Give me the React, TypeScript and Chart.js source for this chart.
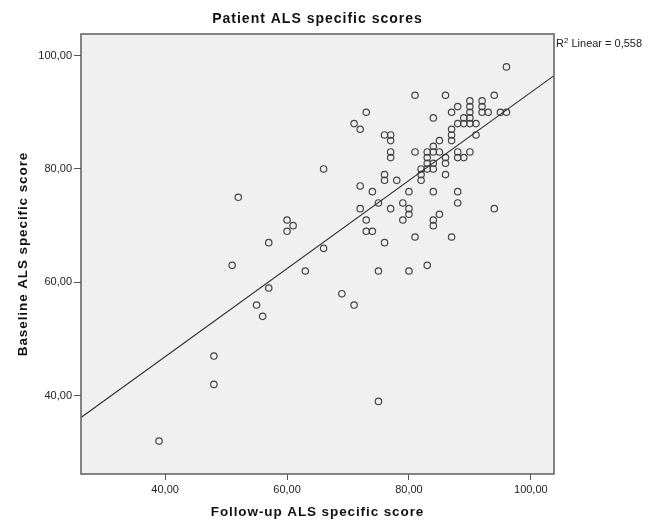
import { useEffect, useRef } from "react";
import { Chart, registerables } from "chart.js";

Chart.register(...registerables);

// Follow-up (x) and baseline (y) ALS specific scores, one entry per patient
const followUp = [
  39, 48, 48, 52, 51, 55, 56, 57, 57, 60, 61, 60, 63, 66, 66, 69, 71, 71, 72, 73,
  72, 72, 73, 73, 74, 74, 75, 75, 75, 76, 76, 76, 77, 77, 77, 77, 76, 77, 78, 79,
  79, 80, 80, 80, 80, 81, 81, 81, 82, 82, 82, 83, 83, 83, 83, 83, 84, 84, 84, 84,
  84, 84, 84, 84, 85, 85, 85, 86, 86, 86, 86, 87, 87, 87, 87, 87, 88, 88, 88, 88,
  88, 88, 89, 89, 89, 90, 90, 90, 90, 90, 90, 91, 91, 92, 92, 92, 93, 94, 94, 95,
  96, 96,
];
const baseline = [
  32, 47, 42, 75, 63, 56, 54, 59, 67, 71, 70, 69, 62, 66, 80, 58, 56, 88, 87, 90,
  77, 73, 71, 69, 69, 76, 74, 62, 39, 79, 78, 86, 86, 85, 83, 82, 67, 73, 78, 74,
  71, 76, 73, 72, 62, 68, 93, 83, 79, 78, 80, 80, 81, 82, 83, 63, 80, 81, 83, 84,
  89, 76, 71, 70, 72, 85, 83, 79, 93, 82, 81, 86, 85, 87, 90, 68, 91, 88, 83, 82,
  76, 74, 88, 82, 89, 92, 91, 90, 89, 88, 83, 88, 86, 92, 91, 90, 90, 93, 73, 90,
  90, 98,
];

// Axis extent and tick values
const axisMin = 26.2;
const axisMax = 103.8;
const tickValues = [40, 60, 80, 100];

// Linear fit line
const fitIntercept = 15.8;
const fitSlope = 0.777;
const rSquared = "0,558";

const chartTitle = "Patient ALS specific scores";
const xTitle = "Follow-up ALS specific score";
const yTitle = "Baseline ALS specific score";

const formatTick = (v: number) => v.toFixed(2).replace(".", ",");

export default function App() {
  const canvasRef = useRef<HTMLCanvasElement | null>(null);

  useEffect(() => {
    const canvas = canvasRef.current;
    if (!canvas) return;

    const points = followUp.map((x, i) => ({ x, y: baseline[i] }));
    const fitLine = [axisMin, axisMax].map((x) => ({ x, y: fitIntercept + fitSlope * x }));

    const framePlugin = {
      id: "frameAndText",
      beforeDatasetsDraw(chart: any) {
        const { ctx, chartArea: a } = chart;
        ctx.save();
        ctx.fillStyle = "#f0f0f0";
        ctx.fillRect(a.left, a.top, a.right - a.left, a.bottom - a.top);
        ctx.restore();
      },
      afterDraw(chart: any) {
        const { ctx, chartArea: a } = chart;
        ctx.save();
        ctx.strokeStyle = "#5e5e5e";
        ctx.lineWidth = 1.5;
        ctx.strokeRect(a.left, a.top, a.right - a.left, a.bottom - a.top);

        const cx = (a.left + a.right) / 2;
        const cy = (a.top + a.bottom) / 2;
        ctx.fillStyle = "#111";
        ctx.textAlign = "center";
        ctx.textBaseline = "alphabetic";

        (ctx as any).letterSpacing = "1px";
        ctx.font = "bold 14px 'Liberation Sans', Arial, sans-serif";
        ctx.fillText(chartTitle, cx, 23);

        (ctx as any).letterSpacing = "0.9px";
        ctx.font = "bold 13.5px 'Liberation Sans', Arial, sans-serif";
        ctx.fillText(xTitle, cx, 516);

        ctx.save();
        ctx.translate(27, cy);
        ctx.rotate(-Math.PI / 2);
        ctx.fillText(yTitle, 0, 0);
        ctx.restore();

        (ctx as any).letterSpacing = "0px";
        ctx.textAlign = "left";
        ctx.fillStyle = "#222";
        let x = a.right + 2;
        const base = 47;
        ctx.font = "11px 'Liberation Sans', Arial, sans-serif";
        ctx.fillText("R", x, base);
        x += ctx.measureText("R").width;
        ctx.font = "8px 'Liberation Sans', Arial, sans-serif";
        ctx.fillText("2", x, base - 4);
        x += ctx.measureText("2").width;
        ctx.font = "11px 'Liberation Sans', Arial, sans-serif";
        ctx.fillText(" Linear = " + rSquared, x, base);
        ctx.restore();
      },
    };

    const tickFont = { family: "'Liberation Sans', Arial, sans-serif", size: 11 };

    const chart = new Chart(canvas, {
      type: "scatter",
      data: {
        datasets: [
          {
            type: "line",
            data: fitLine,
            borderColor: "#2e2e2e",
            borderWidth: 1.1,
            pointRadius: 0,
            fill: false,
          } as any,
          {
            data: points,
            pointStyle: "circle",
            pointRadius: 3.2,
            pointBorderWidth: 1.2,
            pointBorderColor: "#444",
            pointBackgroundColor: "rgba(0,0,0,0)",
          } as any,
        ],
      },
      options: {
        animation: false,
        responsive: false,
        layout: { padding: { left: 0, right: 105, top: 34, bottom: 0 } },
        plugins: {
          legend: { display: false },
          tooltip: { enabled: false },
          title: { display: false },
        },
        scales: {
          x: {
            type: "linear",
            min: axisMin,
            max: axisMax,
            afterBuildTicks: (scale: any) => {
              scale.ticks = tickValues.map((value) => ({ value }));
            },
            afterFit: (scale: any) => {
              scale.height = 46;
            },
            border: { display: false },
            grid: {
              display: true,
              drawOnChartArea: false,
              drawTicks: true,
              tickLength: 6,
              tickColor: "#555",
              color: "#555",
            },
            ticks: {
              callback: (v: any) => formatTick(Number(v)),
              font: tickFont,
              color: "#222",
              padding: 3,
              maxRotation: 0,
              autoSkip: false,
            },
          },
          y: {
            type: "linear",
            min: axisMin,
            max: axisMax,
            afterBuildTicks: (scale: any) => {
              scale.ticks = tickValues.map((value) => ({ value }));
            },
            afterFit: (scale: any) => {
              scale.width = 81;
            },
            border: { display: false },
            grid: {
              display: true,
              drawOnChartArea: false,
              drawTicks: true,
              tickLength: 7,
              tickColor: "#555",
              color: "#555",
            },
            ticks: {
              callback: (v: any) => formatTick(Number(v)),
              font: tickFont,
              color: "#222",
              padding: 2,
              autoSkip: false,
            },
          },
        },
      },
      plugins: [framePlugin],
    });

    return () => chart.destroy();
  }, []);

  return (
    <div style={{ position: "fixed", left: 0, top: 0, width: 659, height: 520, background: "#fff" }}>
      <canvas ref={canvasRef} width={659} height={520} style={{ display: "block" }} />
    </div>
  );
}
